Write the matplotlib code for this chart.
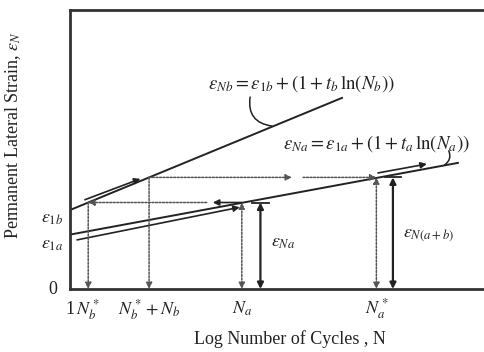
import matplotlib
matplotlib.use('Agg')
import matplotlib.pyplot as plt

plt.rcParams['font.family'] = 'serif'
plt.rcParams['font.serif'] = ['Liberation Serif', 'DejaVu Serif']
plt.rcParams['mathtext.fontset'] = 'stix'

# schematic values (x = log N, y = strain, arbitrary units)
line_b_x = [0.0, 6.57]
line_b_y = [2.83, 6.85]
line_a_x = [0.0, 9.37]
line_a_y = [1.95, 4.52]

cycle_pos = [0.0, 0.44, 1.91, 4.15, 7.4]
cycle_labels = ['1', r'$N_b^*$', r'$N_b^*+N_b$', r'$N_a$', r'$N_a^*$']
eps_na = 3.1
eps_nab = 4.0
eps_labels = [r'$\varepsilon_{1b}$', r'$\varepsilon_{1a}$', '0']
eps_label_y = [2.54, 1.61, 0.0]

ink = '#222222'

fig = plt.figure(figsize=(4.84, 3.52), dpi=100)
ax = fig.add_axes([70 / 484, 1 - 289 / 352, 414 / 484, 279 / 352])
ax.set_xlim(0, 10)
ax.set_ylim(0, 10)
for side in ['left', 'top', 'bottom']:
    ax.spines[side].set_linewidth(2.0)
    ax.spines[side].set_color('#333333')
ax.spines['right'].set_visible(False)
ax.set_xticks([])
ax.set_yticks([])

# the two strain lines
ax.plot(line_b_x, line_b_y, color=ink, lw=1.4)
ax.plot(line_a_x, line_a_y, color=ink, lw=1.4)


def arrow(x0, y0, x1, y1, style='-|>', ls='-', lw=1.2, col=ink):
    ax.annotate('', xy=(x1, y1), xytext=(x0, y0),
                arrowprops=dict(arrowstyle=style, color=col, lw=lw, linestyle=ls,
                                shrinkA=0, shrinkB=0, mutation_scale=9))


dot = (0, (1.3, 1.0))
grey = '#555555'

# arrows running along the lines
arrow(0.36, 3.2, 1.70, 3.95)
arrow(0.17, 1.76, 4.1, 2.93)
arrow(7.44, 4.16, 8.62, 4.48)

# horizontal moves between the lines
arrow(4.15, eps_na, 3.45, eps_na)
arrow(3.3, eps_na, cycle_pos[1], eps_na, ls=dot, lw=1.1, col=grey)
arrow(cycle_pos[2], eps_nab, 5.36, eps_nab, ls=dot, lw=1.1, col=grey)
arrow(5.63, eps_nab, cycle_pos[4], eps_nab, ls=dot, lw=1.1, col=grey)

# vertical drops to the cycle axis
arrow(cycle_pos[1], eps_na, cycle_pos[1], 0, ls=dot, lw=1.1, col=grey)
arrow(cycle_pos[2], eps_nab, cycle_pos[2], 0, ls=dot, lw=1.1, col=grey)
arrow(cycle_pos[3], eps_na, cycle_pos[3], 0, style='<|-|>', ls=dot, lw=1.1, col=grey)
arrow(cycle_pos[4], eps_nab, cycle_pos[4], 0, style='<|-|>', ls=dot, lw=1.1, col=grey)

# strain magnitude arrows with caps
arrow(4.6, eps_na, 4.6, 0, style='<|-|>', lw=1.6)
ax.plot([4.4, 4.8], [eps_na, eps_na], color=ink, lw=1.3)
arrow(7.8, eps_nab, 7.8, 0, style='<|-|>', lw=1.6)
ax.plot([7.6, 8.0], [eps_nab, eps_nab], color=ink, lw=1.3)

ax.text(4.85, 1.65, r'$\varepsilon_{Na}$', fontsize=13, color=ink, va='center')
ax.text(8.05, 1.9, r'$\varepsilon_{N(a+b)}$', fontsize=13, color=ink, va='center')

# equations with leaders
ax.text(5.58, 7.38, r'$\varepsilon_{Nb} = \varepsilon_{1b} + (1 + t_b\,\ln(N_b))$',
        fontsize=13.5, color=ink, ha='center', va='center')
ax.annotate('', xy=(4.88, 5.84), xytext=(4.35, 6.88),
            arrowprops=dict(arrowstyle='-', color=ink, lw=1.1,
                            connectionstyle='arc3,rad=0.5', shrinkA=0, shrinkB=0))
ax.text(7.39, 5.23, r'$\varepsilon_{Na} = \varepsilon_{1a} + (1 + t_a\,\ln(N_a))$',
        fontsize=13.5, color=ink, ha='center', va='center')
ax.annotate('', xy=(9.05, 4.45), xytext=(9.15, 4.95),
            arrowprops=dict(arrowstyle='-', color=ink, lw=1.1,
                            connectionstyle='arc3,rad=-0.4', shrinkA=0, shrinkB=0))

# axis labels as plain text
for lab, yv in zip(eps_labels, eps_label_y):
    ax.text(-0.42, yv, lab, fontsize=13, color=ink, ha='center', va='center', clip_on=False)
for lab, xv in zip(cycle_labels, cycle_pos):
    ax.text(xv, -0.72, lab, fontsize=13, color=ink, ha='center', va='center', clip_on=False)

fig.text(290 / 484, 1 - 339 / 352, 'Log Number of Cycles , N', fontsize=13,
         color=ink, ha='center', va='center')
fig.text(13 / 484, 1 - 135 / 352, r'Permanent Lateral Strain, $\varepsilon_N$', fontsize=13,
         color=ink, ha='center', va='center', rotation=90)

fig.savefig('out.png', dpi=100)
